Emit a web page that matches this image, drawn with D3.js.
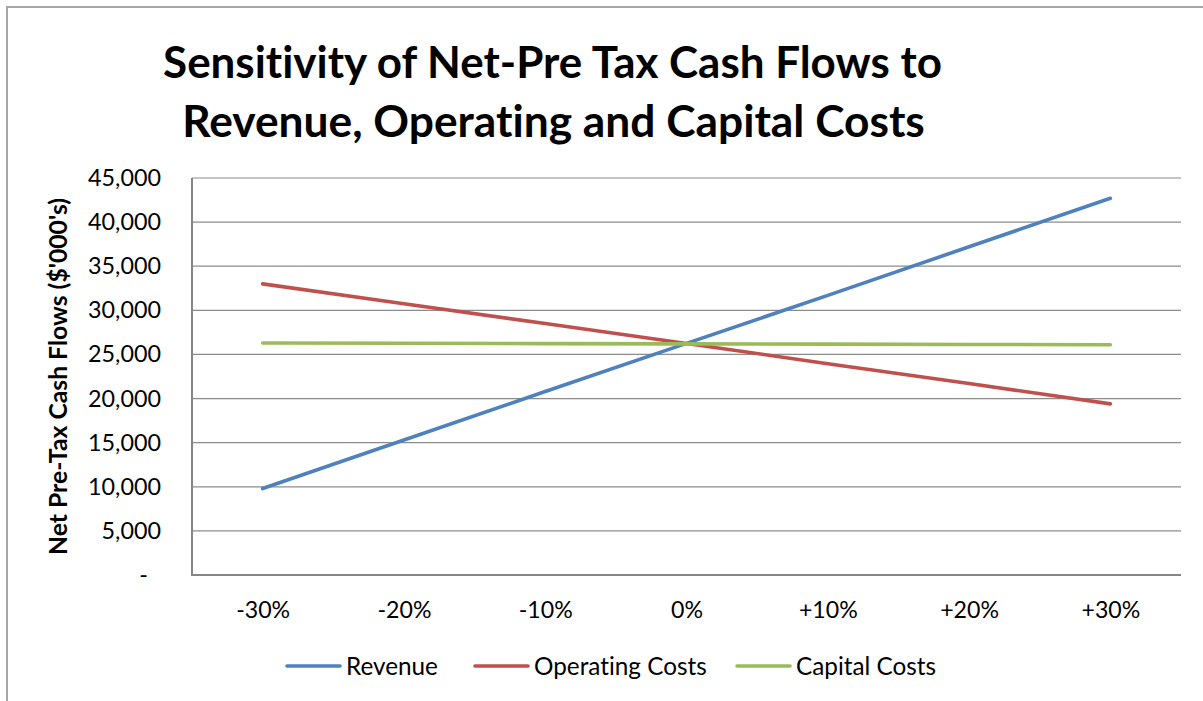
<!DOCTYPE html>
<html>
<head>
<meta charset="utf-8">
<script src="https://cdn.jsdelivr.net/npm/d3@7"></script>
<style>
  html, body { margin: 0; padding: 0; background: #fff; }
  svg { display: block; }
  text { font-family: Lato, "Open Sans", sans-serif; fill: #000; font-variant-ligatures: none; font-feature-settings: "liga" 0; }
</style>
</head>
<body>
<svg id="chart" width="1203" height="701"></svg>
<script>
// ---- data ----
const categories = ["-30%", "-20%", "-10%", "0%", "+10%", "+20%", "+30%"];
const revenue = [9800, 15300, 20800, 26250, 31700, 37200, 42700];
const operatingCosts = [33000, 30750, 28500, 26250, 23950, 21700, 19400];
const capitalCosts = [26300, 26270, 26230, 26200, 26170, 26130, 26100];
const seriesNames = ["Revenue", "Operating Costs", "Capital Costs"];
const seriesColors = ["#4F81BD", "#C0504D", "#9BBB59"];
const yTicks = [0, 5000, 10000, 15000, 20000, 25000, 30000, 35000, 40000, 45000];
const titleLines = ["Sensitivity of Net-Pre Tax Cash Flows to", "Revenue, Operating and Capital Costs"];
const yAxisTitle = "Net Pre-Tax Cash Flows ($'000's)";

const series = [revenue, operatingCosts, capitalCosts];

const svg = d3.select("#chart");
const W = 1203, H = 701;
const plot = { left: 192, right: 1181, top: 178, bottom: 575 };

function fitWidth(sel, target, base) {
  sel.style("font-size", base + "px");
  const w = sel.node().getComputedTextLength();
  const fs = base * target / w;
  sel.style("font-size", fs + "px");
  return fs;
}
function sizeFor(str, target, weight) {
  const t = svg.append("text").text(str).style("font-weight", weight || "normal");
  const fs = fitWidth(t, target, 20);
  t.remove();
  return fs;
}

// outer frame (only top/left visible)
svg.append("rect")
  .attr("x", 7).attr("y", 7)
  .attr("width", W + 20).attr("height", H + 20)
  .attr("fill", "none").attr("stroke", "#a6a6a6").attr("stroke-width", 2);

// scales
const x = d3.scalePoint().domain(categories).range([plot.left, plot.right]).padding(0.5);
const y = d3.scaleLinear().domain([0, 45000]).range([plot.bottom, plot.top]);

// gridlines
svg.append("g").selectAll("line").data(yTicks.filter(d => d > 0)).join("line")
  .attr("x1", plot.left).attr("x2", plot.right)
  .attr("y1", d => y(d)).attr("y2", d => y(d))
  .attr("stroke", "#8c8c8c").attr("stroke-width", 1.2);

// y axis
const tickFs = sizeFor("45,000", 73);
const yAxis = d3.axisLeft(y).tickValues(yTicks).tickSize(0).tickPadding(31)
  .tickFormat(d => d === 0 ? "-" : d3.format(",")(d));
const gy = svg.append("g").attr("transform", `translate(${plot.left},0)`).call(yAxis);
gy.select(".domain").remove();
gy.selectAll("text").style("font-size", tickFs + "px").style("font-family", "Lato, 'Open Sans', sans-serif")
  .attr("fill", "#000")
  .attr("dx", d => d === 0 ? -13 : 0);
svg.append("line")
  .attr("x1", plot.left).attr("x2", plot.left)
  .attr("y1", plot.top).attr("y2", plot.bottom)
  .attr("stroke", "#868686").attr("stroke-width", 2);

// x axis
const xFs = sizeFor("-30%", 54);
const xAxis = d3.axisBottom(x).tickSize(0).tickPadding(0);
const gx = svg.append("g").attr("transform", `translate(0,${plot.bottom})`).call(xAxis);
gx.select(".domain").remove();
gx.selectAll("text").style("font-size", xFs + "px").style("font-family", "Lato, 'Open Sans', sans-serif")
  .attr("fill", "#000").attr("y", 35).attr("dy", "0.35em");
svg.append("line")
  .attr("x1", plot.left - 1).attr("x2", plot.right)
  .attr("y1", plot.bottom).attr("y2", plot.bottom)
  .attr("stroke", "#868686").attr("stroke-width", 2);

// series lines
const line = d3.line().x((d, i) => x(categories[i])).y(d => y(d));
svg.append("g").selectAll("path").data(series).join("path")
  .attr("d", d => line(d))
  .attr("fill", "none")
  .attr("stroke", (d, i) => seriesColors[i])
  .attr("stroke-width", 3.6)
  .attr("stroke-linecap", "round");

// title
const t1 = svg.append("text").attr("x", 552.5).attr("y", 78).attr("text-anchor", "middle")
  .style("font-weight", "bold").text(titleLines[0]);
fitWidth(t1, 779, 40);
const t2 = svg.append("text").attr("x", 553.5).attr("y", 137).attr("text-anchor", "middle")
  .style("font-weight", "bold").text(titleLines[1]);
fitWidth(t2, 743, 40);

// y axis title
const yt = svg.append("text")
  .attr("transform", `translate(58,376.5) rotate(-90)`)
  .attr("text-anchor", "middle").attr("dy", "0.35em")
  .style("font-weight", "bold").text(yAxisTitle);
fitWidth(yt, 357, 18);

// legend
const legFs = sizeFor("Revenue", 92);
const legY = 666;
const lineLen = 53, gapText = 6;
const legendStarts = [287, 475, 737];
seriesNames.forEach((name, i) => {
  const g = svg.append("g").attr("transform", `translate(${legendStarts[i]},0)`);
  g.append("line").attr("x1", 0).attr("x2", lineLen).attr("y1", legY).attr("y2", legY)
    .attr("stroke", seriesColors[i]).attr("stroke-width", 3.6).attr("stroke-linecap", "round");
  g.append("text").attr("x", lineLen + gapText).attr("y", legY).attr("dy", "0.35em")
    .style("font-size", legFs + "px").text(name);
});
</script>
</body>
</html>
